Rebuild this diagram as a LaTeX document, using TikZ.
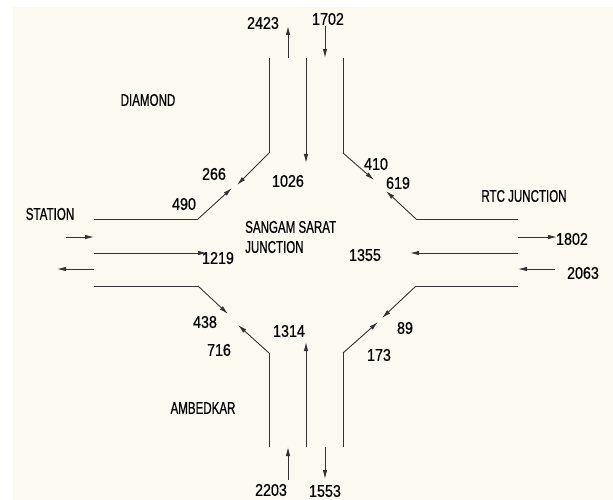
\documentclass[tikz,border=0pt]{standalone}
\usepackage{fontspec}
\setmainfont{Liberation Sans}
\newfontfamily\roadfont[FakeStretch=0.68,FakeBold=0.6]{Liberation Sans}
\newfontfamily\countfont[FakeStretch=0.84,FakeBold=0.6]{Liberation Sans}
\usetikzlibrary{arrows.meta}
\usetikzlibrary{positioning}
\definecolor{paper}{RGB}{252,250,240}
\tikzset{road/.style={draw, line width=0.9pt, black!80}}
\tikzset{flow/.style={draw, line width=0.9pt, black!80, -{Latex[length=9pt,width=4.5pt]}}}
\tikzset{place/.style={font=\roadfont\fontsize{17}{20}\selectfont, inner sep=0pt, align=left}}
\tikzset{count/.style={font=\countfont\fontsize{17}{20}\selectfont, inner sep=0pt}}

\begin{document}
\begin{tikzpicture}[x=1pt,y=-1pt]
\useasboundingbox (0,0) rectangle (613,500);
\fill[paper] (13,7) rectangle (613,500);
% corners of the four roads
\coordinate (nwh) at (94,219);  \coordinate (nwc) at (198,219);
\coordinate (nwv) at (269,58);  \coordinate (nwd) at (269,153);
\coordinate (nev) at (343,58);  \coordinate (ned) at (343,153);
\coordinate (neh) at (518,219); \coordinate (nec) at (416,219);
\coordinate (swh) at (94,286);  \coordinate (swc) at (198,286);
\coordinate (swv) at (269,447); \coordinate (swd) at (269,353);
\coordinate (seh) at (518,286); \coordinate (sec) at (416,286);
\coordinate (sev) at (343,447); \coordinate (sed) at (343,353);
\path[road] (nwh) -- (nwc);
\path[road] (nwv) -- (nwd);
\path[road] (nev) -- (ned);
\path[road] (neh) -- (nec);
\path[road] (swh) -- (swc);
\path[road] (swv) -- (swd);
\path[road] (seh) -- (sec);
\path[road] (sev) -- (sed);
% turning flows
\coordinate (t266) at (237,185); \coordinate (t490) at (232,188);
\coordinate (t410) at (374,180); \coordinate (t619) at (386,191);
\coordinate (t438) at (228,314); \coordinate (t716) at (238,325);
\coordinate (t89) at (382,318);  \coordinate (t173) at (378,322);
\path[flow] (nwd) -- (t266);
\path[flow] (nwc) -- (t490);
\path[flow] (ned) -- (t410);
\path[flow] (nec) -- (t619);
\path[flow] (swc) -- (t438);
\path[flow] (swd) -- (t716);
\path[flow] (sec) -- (t89);
\path[flow] (sed) -- (t173);
% straight flows
\coordinate (n1) at (288,58);  \coordinate (n1e) at (288,26);
\coordinate (n2) at (325,26);  \coordinate (n2e) at (325,58);
\coordinate (n3) at (306,58);  \coordinate (n3e) at (306,163);
\coordinate (s1) at (306,447); \coordinate (s1e) at (306,342);
\coordinate (s2) at (288,480); \coordinate (s2e) at (288,447);
\coordinate (s3) at (325,447); \coordinate (s3e) at (325,479);
\coordinate (w1) at (66,237);  \coordinate (w1e) at (94,237);
\coordinate (w2) at (94,269);  \coordinate (w2e) at (57,269);
\coordinate (w3) at (94,253);  \coordinate (w3e) at (207,253);
\coordinate (e1) at (518,253); \coordinate (e1e) at (410,253);
\coordinate (e2) at (518,237); \coordinate (e2e) at (557,237);
\coordinate (e3) at (555,269); \coordinate (e3e) at (518,269);
\path[flow] (n1) -- (n1e);
\path[flow] (n2) -- (n2e);
\path[flow] (n3) -- (n3e);
\path[flow] (s1) -- (s1e);
\path[flow] (s2) -- (s2e);
\path[flow] (s3) -- (s3e);
\path[flow] (w1) -- (w1e);
\path[flow] (w2) -- (w2e);
\path[flow] (w3) -- (w3e);
\path[flow] (e1) -- (e1e);
\path[flow] (e2) -- (e2e);
\path[flow] (e3) -- (e3e);
% places
\node[place] (diamond) at (148,100) {DIAMOND};
\node[place] (station) at (50,214) {STATION};
\node[place] (rtc) at (524,196) {RTC JUNCTION};
\node[place] (ambedkar) at (203,408) {AMBEDKAR};
\node[place,anchor=west] (sangam) at (245,237) {SANGAM SARAT\\JUNCTION};
% counts
\node[count] (c2423) at (263,23) {2423};
\node[count] (c1702) at (328,19) {1702};
\node[count] (c1026) at (288,181) {1026};
\node[count] (c266) at (214,174) {266};
\node[count] (c490) at (184,204) {490};
\node[count] (c410) at (376,164) {410};
\node[count] (c619) at (398,183) {619};
\node[count] (c1802) at (572,239) {1802};
\node[count] (c1219) at (218,258) {1219};
\node[count] (c1355) at (365,255) {1355};
\node[count] (c2063) at (583,273) {2063};
\node[count] (c438) at (205,322) {438};
\node[count] (c716) at (219,350) {716};
\node[count] (c1314) at (289,331) {1314};
\node[count] (c89) at (405,328) {89};
\node[count] (c173) at (379,355) {173};
\node[count] (c2203) at (271,490) {2203};
\node[count] (c1553) at (325,491) {1553};
\end{tikzpicture}
\end{document}
